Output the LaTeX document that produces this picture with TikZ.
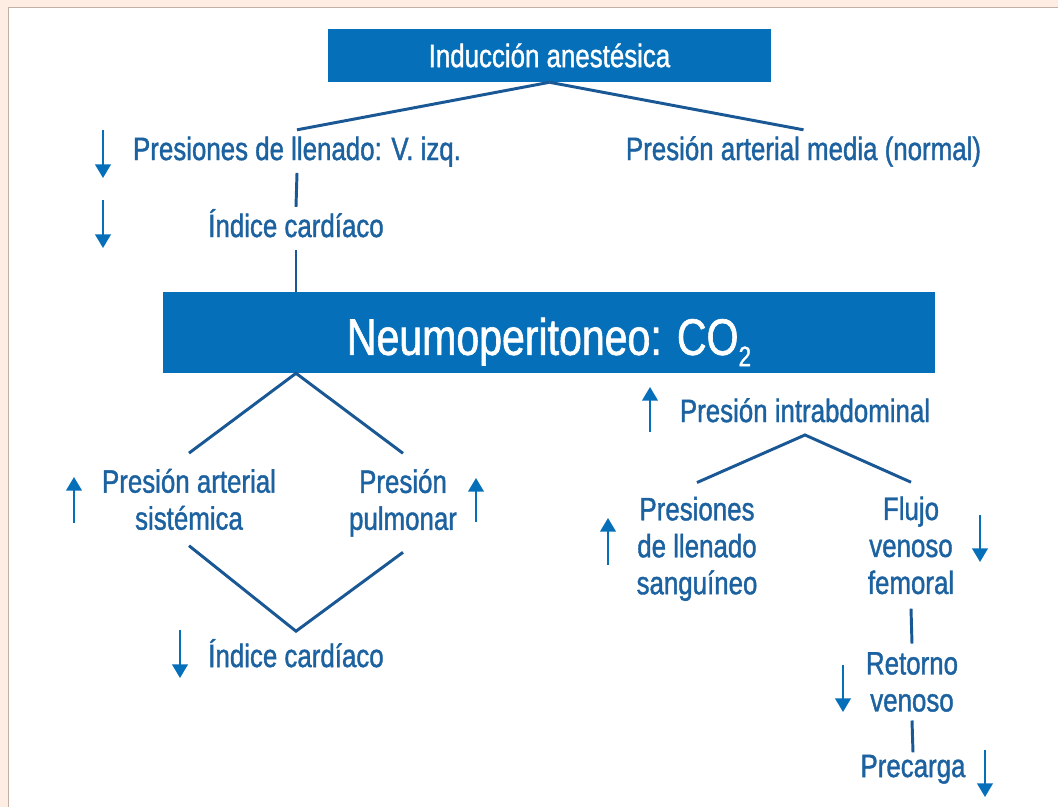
\documentclass[tikz,border=0pt]{standalone}
\usepackage{fontspec}
\setmainfont{Liberation Sans}[FakeStretch=0.8, FakeBold=1.2]
\usepackage{tikz}
\usetikzlibrary{arrows.meta, positioning}

\definecolor{boxblue}{RGB}{5,112,185}
\definecolor{txtblue}{RGB}{28,98,160}
\definecolor{lineblue}{RGB}{25,88,148}
\definecolor{peach}{RGB}{253,237,226}
\definecolor{edgegray}{RGB}{192,176,166}

\begin{document}
\begin{tikzpicture}[
    x=0.25mm, y=-0.25mm,
    every node/.style={font=\fontsize{23}{26.3}\selectfont, text=txtblue},
    lbl/.style={inner xsep=2pt, inner ysep=4pt, text height=17.3pt, text depth=5pt},
    multi/.style={align=center, inner xsep=2pt, inner ysep=4pt},
    headbox/.style={fill=boxblue, text=white, inner sep=0pt, text depth=0pt},
    link/.style={lineblue, line width=2.1pt},
    trend/.style={-{Triangle[length=3.4mm, width=3.9mm]}, boxblue, line width=1.4pt}
]

% fondo y marco
\useasboundingbox (0,0) rectangle (1058,807);
\fill[peach] (0,0) rectangle (1058,807);
\fill[white] (8,7) rectangle (1058,807);
\draw[edgegray, line width=0.6pt] (8,807) -- (8,7) -- (1058,7);

% cajas
\node[headbox, minimum width=110.75mm, minimum height=13.25mm, text height=16.5pt] (induc) at (549.5,55.5) {Inducción anestésica};
\node[headbox, minimum width=193mm, minimum height=20.25mm, font=\fontsize{36.5}{40}\selectfont, text height=31.8pt] (neumo) at (549,332.5) {Neumoperitoneo: CO\raisebox{-0.22em}{\fontsize{20}{20}\selectfont 2}};

% textos
\node[lbl] (llenvi) at (297,151.4) {Presiones de llenado: V. izq.};
\node[lbl] (pam) at (803.5,151.4) {Presión arterial media (normal)};
\node[lbl] (icsup) at (296,228.4) {Índice cardíaco};
\node[multi, inner ysep=11pt] (pas) at (189,499.4) {Presión arterial\\sistémica};
\node[multi, inner ysep=11pt] (ppul) at (403,502.8) {Presión\\pulmonar};
\node[lbl, inner ysep=8pt] (icinf) at (296,658.4) {Índice cardíaco};
\node[lbl] (pia) at (805,413.4) {Presión intrabdominal};
\node[multi, inner ysep=10pt] (plls) at (697,548.9) {Presiones\\de llenado\\sanguíneo};
\node[multi, inner ysep=10pt] (flujo) at (911,545.4) {Flujo\\venoso\\femoral};
\node[multi, inner ysep=6pt] (retorno) at (912,682) {Retorno\\venoso};
\node[lbl, inner ysep=0pt] (precarga) at (913,768.4) {Precarga};

% conexiones
\draw[link] (induc.south) -- (llenvi.north);
\draw[link] (induc.south) -- (pam.north);
\draw[link] (llenvi.south) -- (icsup.north);
\draw[link] (icsup.south) -- (icsup.south |- neumo.north);
\coordinate (neumoizq) at (neumo.south -| icsup);
\draw[link] (pas.north) -- (neumoizq) -- (ppul.north);
\draw[link] (pas.south) -- (icinf.north) -- (ppul.south);
\draw[link] (plls.north) -- (pia.south) -- (flujo.north);
\draw[link] (flujo.south) -- (retorno.north);
\draw[link] (retorno.south) -- (precarga.north);

% flechas de tendencia
\draw[trend] (103,130) -- (103,178);
\draw[trend] (103,200) -- (103,248);
\draw[trend] (74,523) -- (74,477);
\draw[trend] (476,522) -- (476,478);
\draw[trend] (180,630) -- (180,678);
\draw[trend] (650,432) -- (650,387);
\draw[trend] (608,565) -- (608,518);
\draw[trend] (980,515) -- (980,562);
\draw[trend] (843,665) -- (843,712);
\draw[trend] (985,750) -- (985,797);

\end{tikzpicture}
\end{document}
